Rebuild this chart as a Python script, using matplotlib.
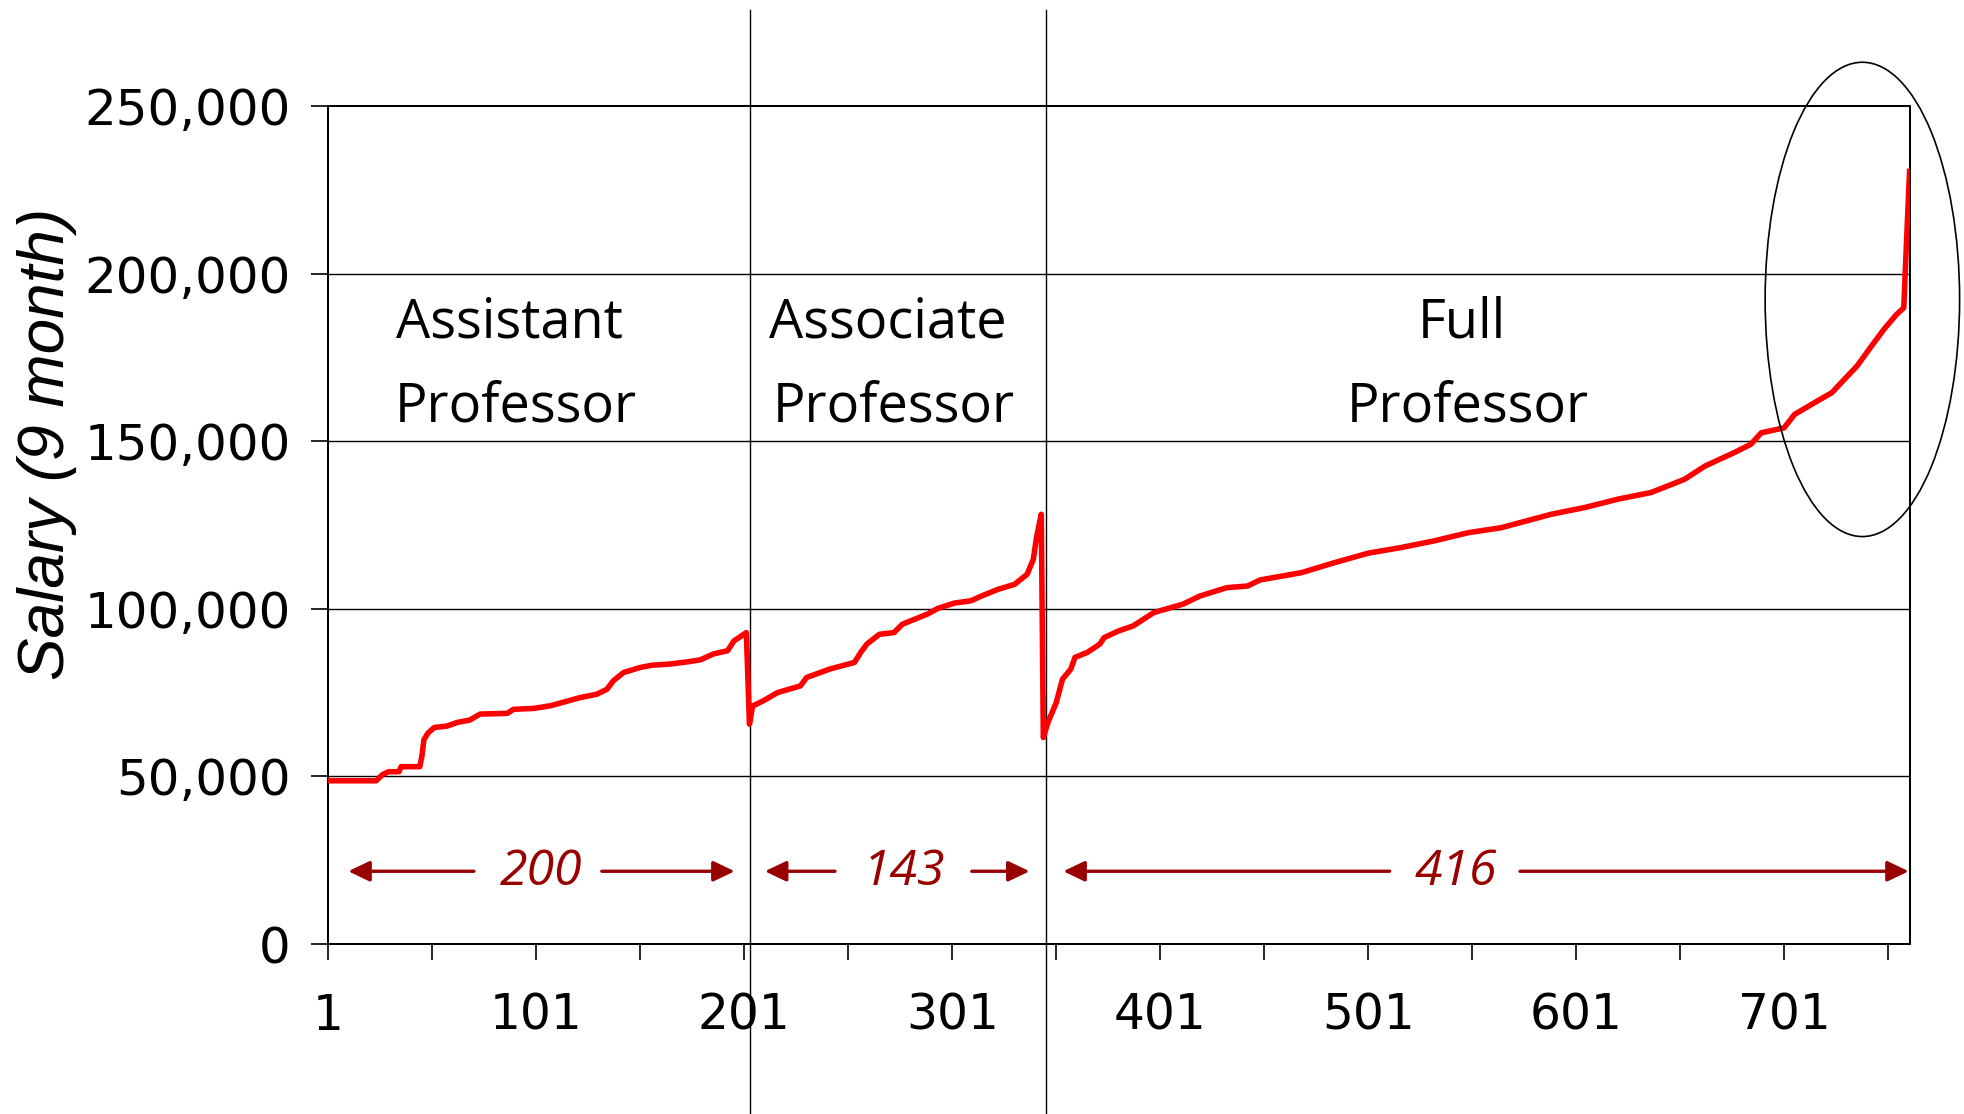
import matplotlib
matplotlib.use('Agg')
from matplotlib import pyplot as plt
from matplotlib.patches import Ellipse
from matplotlib.ticker import FixedLocator, StrMethodFormatter

# faculty index (sorted by salary within rank) and 9-month salary
asst_idx = [1, 24, 27, 30, 35, 36, 45, 46, 47, 49, 52, 58, 63, 69, 74, 87, 90, 100,
            108, 115, 122, 130, 135, 138, 143, 151, 157, 165, 174, 180, 186, 193, 196, 202]
asst_sal = [48700, 48700, 50500, 51400, 51400, 52900, 52900, 56000, 61000, 63000, 64600,
            65000, 66100, 66800, 68600, 68800, 70000, 70300, 71100, 72300, 73500, 74500,
            76000, 78500, 81000, 82500, 83200, 83500, 84200, 84800, 86500, 87500, 90400, 92900]

assoc_idx = [203.5, 205, 210, 217, 228, 231, 242, 254, 257, 260, 266, 273, 277, 289, 294,
             302, 310, 315, 323, 331, 337, 340, 341.5, 343.8]
assoc_sal = [65600, 71000, 72500, 75000, 77000, 79500, 82000, 84000, 87000, 89500, 92400,
             92900, 95400, 98400, 100100, 101700, 102400, 103800, 105800, 107300, 110300,
             114800, 121200, 128200]

full_idx = [344.8, 347, 351, 354, 358, 360, 366, 372, 374, 381, 388, 398, 412, 420, 433,
            443, 449, 469, 485, 501, 517, 533, 549, 565, 589, 605, 621, 637, 653, 663, 677,
            685, 690, 701, 706, 717, 724, 730, 736, 743, 749, 755, 758.5, 760, 761.3]
full_sal = [61600, 66100, 72000, 79000, 82000, 85500, 87000, 89500, 91400, 93400, 94900,
            98900, 101400, 103800, 106300, 106800, 108600, 110800, 113800, 116600, 118300,
            120300, 122700, 124200, 128200, 130200, 132700, 134700, 138600, 142600, 146600,
            149100, 152500, 154000, 158000, 162000, 164500, 168500, 172400, 178400, 183400,
            187800, 189800, 212000, 230500]

rank_lines = [['Assistant', 'Professor'], ['Associate', 'Professor'], ['Full', 'Professor']]
rank_label_x = [88, 270, 546]
rank_counts = ['200', '143', '416']
count_text_x = [103.5, 277.8, 543.2]
arrow_left = [(71, 10.6), (244.6, 210.9), (511.3, 354.4)]     # (tail, tip)
arrow_right = [(132.5, 196.4), (310.4, 338.2), (574, 760.9)]
dividers = [203.7, 346.1]

y_ticks = [0, 50000, 100000, 150000, 200000, 250000]
x_labels = [1, 101, 201, 301, 401, 501, 601, 701]
x_minor = [51, 151, 251, 351, 451, 551, 651, 751]

dark_red = '#990000'

fig = plt.figure(figsize=(19.65, 11.14), dpi=100)
ax = fig.add_axes([0.16707, 0.1526, 0.80494, 0.75225])

x_all = asst_idx + assoc_idx + full_idx
y_all = asst_sal + assoc_sal + full_sal
ax.plot(x_all, y_all, color='#FF0000', lw=4.0, solid_joinstyle='round', zorder=4)

ax.set_xlim(1, 761.5)
ax.set_ylim(0, 250000)

ax.yaxis.set_major_locator(FixedLocator(y_ticks))
ax.yaxis.set_major_formatter(StrMethodFormatter('{x:,.0f}'))
ax.xaxis.set_major_locator(FixedLocator(x_labels))
ax.xaxis.set_minor_locator(FixedLocator(x_minor))
ax.set_xticklabels([str(v) for v in x_labels])

ax.tick_params(axis='y', which='major', length=12, width=1.2, pad=15, labelsize=36,
               direction='out')
ax.tick_params(axis='x', which='both', length=11.3, width=1.2, pad=23, labelsize=35,
               direction='out')

for s in ax.spines.values():
    s.set_linewidth(1.45)
    s.set_color('black')

for yv in y_ticks[1:-1]:
    ax.axhline(yv, color='black', lw=1.0, zorder=1)

# rank dividers running past the plot area
for dx in dividers:
    ax.plot([dx, dx], [1.115, -0.2016], color='black', lw=1.0,
            transform=ax.get_xaxis_transform(), clip_on=False, zorder=3)

# rank labels
for lines, lx in zip(rank_lines, rank_label_x):
    ax.text(lx, 185300, lines[0], ha='center', va='center', fontsize=39,
            family='Open Sans', zorder=5)
    ax.text(lx + 3, 160300, lines[1], ha='center', va='center', fontsize=39,
            family='Open Sans', zorder=5)

# counts with arrows
for txt, tx, la, ra in zip(rank_counts, count_text_x, arrow_left, arrow_right):
    ax.text(tx, 21400, txt, ha='center', va='center', fontsize=36, style='italic',
            family='Open Sans', color=dark_red)
    for tail, tip in (la, ra):
        ax.annotate('', xy=(tip, 21700), xytext=(tail, 21700),
                    arrowprops=dict(arrowstyle='-|>,head_length=0.65,head_width=0.31',
                                    color=dark_red, lw=2.4, shrinkA=0, shrinkB=0,
                                    mutation_scale=20))

# highlight of the top earners
ax.add_patch(Ellipse((738.6, 192300), 93.5, 141500, fill=False, ec='black', lw=1.2,
                     clip_on=False, zorder=6))

fig.text(47 / 1965, 1 - 444 / 1114, 'Salary (9 month)', rotation=90, ha='center',
         va='center', fontsize=46, style='italic', family='Liberation Sans')

plt.savefig('out.png', dpi=100)
